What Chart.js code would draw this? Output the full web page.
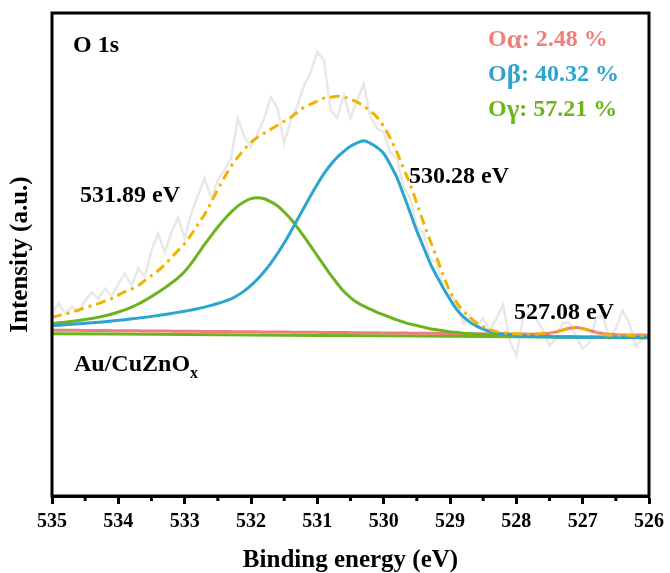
<!DOCTYPE html>
<html>
<head>
<meta charset="utf-8">
<title>O 1s XPS</title>
<script src="https://cdn.jsdelivr.net/npm/chart.js@4.4.1/dist/chart.umd.min.js"></script>
<style>
  html, body { margin: 0; padding: 0; background: #fff; }
</style>
</head>
<body>
<canvas id="xps" width="670" height="573"></canvas>
<script>
// binding energy grid (eV), 0.1 eV steps
const energy = [
  535.0, 534.9, 534.8, 534.7, 534.6, 534.5, 534.4, 534.3, 534.2, 534.1,
  534.0, 533.9, 533.8, 533.7, 533.6, 533.5, 533.4, 533.3, 533.2, 533.1,
  533.0, 532.9, 532.8, 532.7, 532.6, 532.5, 532.4, 532.3, 532.2, 532.1,
  532.0, 531.9, 531.8, 531.7, 531.6, 531.5, 531.4, 531.3, 531.2, 531.1,
  531.0, 530.9, 530.8, 530.7, 530.6, 530.5, 530.4, 530.3, 530.2, 530.1,
  530.0, 529.9, 529.8, 529.7, 529.6, 529.5, 529.4, 529.3, 529.2, 529.1,
  529.0, 528.9, 528.8, 528.7, 528.6, 528.5, 528.4, 528.3, 528.2, 528.1,
  528.0, 527.9, 527.8, 527.7, 527.6, 527.5, 527.4, 527.3, 527.2, 527.1,
  527.0, 526.9, 526.8, 526.7, 526.6, 526.5, 526.4, 526.3, 526.2, 526.1,
  526.0
];

// measured spectrum (a.u.)
const rawCounts = [
  183, 192, 182, 189, 184, 195, 203, 197, 207, 199,
  212, 222, 210, 227, 219, 245, 262, 243, 263, 278,
  257, 282, 300, 317, 297, 315, 325, 337, 377, 358,
  348, 362, 377, 398, 387, 352, 375, 390, 410, 423,
  443, 435, 385, 377, 400, 377, 395, 411, 378, 367,
  363, 343, 337, 309, 297, 269, 263, 237, 233, 207,
  199, 195, 172, 180, 169, 177, 165, 177, 191, 155,
  140, 177, 183, 177, 165, 150, 157, 173, 173, 159,
  147, 153, 177, 181, 157, 167, 185, 173, 149, 157,
  159
];

// fitted envelope
const envelope = [
  178.5, 180, 181.5, 183.5, 185.5, 188, 190, 192, 194.5, 197,
  200.5, 204, 206.5, 210, 215, 220, 225, 231, 238, 245,
  252, 261, 271, 281, 293, 306, 318, 329, 338, 346,
  353, 358, 362, 366, 370, 374, 378, 383, 388, 391,
  394, 397, 398, 399, 398, 396, 393, 389, 384, 378,
  369, 357, 343, 327, 311, 292, 273, 255, 238, 220,
  204, 193, 185, 178, 173, 169, 166, 164, 163, 162,
  162, 161.5, 161.5, 161.5, 162.5, 163, 164, 165.5, 167.5, 168,
  167, 165, 163, 161.5, 160.5, 160.5, 160.3, 160.3, 160.2, 160.2,
  160
];

// O-alpha component (527.08 eV)
const oAlpha = [
  165.5, 165.4, 165.4, 165.3, 165.3, 165.2, 165.2, 165.1, 165.1, 165.0,
  164.9, 164.9, 164.8, 164.8, 164.7, 164.7, 164.6, 164.6, 164.5, 164.4,
  164.4, 164.3, 164.3, 164.2, 164.2, 164.1, 164.1, 164.0, 163.9, 163.9,
  163.8, 163.8, 163.7, 163.7, 163.6, 163.6, 163.5, 163.4, 163.4, 163.3,
  163.3, 163.2, 163.2, 163.1, 163.1, 163.0, 162.9, 162.9, 162.8, 162.8,
  162.7, 162.7, 162.6, 162.6, 162.5, 162.4, 162.4, 162.3, 162.3, 162.2,
  162.2, 162.1, 162.1, 162.0, 161.9, 161.9, 161.8, 161.8, 161.7, 161.7,
  161.6, 161.6, 161.5, 161.6, 161.9, 162.5, 163.8, 165.6, 167.4, 168.1,
  167.3, 165.4, 163.4, 162.1, 161.3, 161.0, 160.7, 160.7, 160.6, 160.6,
  160.5
];

// O-beta component (530.28 eV)
const oBeta = [
  170.0, 170.5, 170.9, 171.4, 171.8, 172.4, 172.9, 173.5, 174.0, 174.7,
  175.4, 176.0, 176.8, 177.5, 178.4, 179.2, 180.2, 181.1, 182.2, 183.3,
  184.4, 185.7, 187.0, 188.5, 190.2, 192.2, 194.3, 196.8, 200.3, 204.7,
  210.2, 216.6, 224.1, 232.5, 242.0, 252.4, 263.9, 275.9, 287.8, 299.8,
  311.2, 321.7, 330.6, 338.1, 344.0, 349.0, 352.5, 354.4, 351.9, 347.8,
  341.8, 330.7, 317.7, 300.6, 282.6, 264.6, 248.5, 232.5, 219.4, 207.4,
  196.3, 186.3, 179.0, 173.5, 169.5, 166.5, 164.3, 162.7, 161.6, 160.8,
  160.2, 159.6, 159.3, 159.1, 158.9, 158.8, 158.6, 158.6, 158.5, 158.5,
  158.4, 158.4, 158.4, 158.3, 158.3, 158.2, 158.2, 158.1, 158.1, 158.0,
  158.0
];

// O-gamma component (531.89 eV)
const oGamma = [
  172.0, 172.8, 173.5, 174.4, 175.2, 176.2, 177.2, 178.5, 179.9, 181.6,
  183.6, 185.8, 188.5, 191.6, 195.2, 199.1, 203.3, 207.7, 212.5, 217.7,
  224.1, 232.1, 241.5, 251.0, 259.9, 268.4, 276.3, 283.3, 289.3, 293.7,
  296.7, 297.6, 296.6, 293.5, 289.5, 283.4, 276.4, 267.9, 258.8, 249.3,
  239.7, 230.2, 220.6, 212.1, 204.0, 198.0, 193.0, 189.4, 186.4, 183.3,
  180.8, 178.2, 175.7, 173.6, 171.6, 170.1, 168.5, 167.0, 165.9, 164.9,
  163.8, 163.3, 162.4, 162.0, 161.5, 161.1, 160.7, 160.4, 160.2, 159.9,
  159.8, 159.6, 159.5, 159.4, 159.2, 159.2, 159.0, 159.0, 158.8, 158.8,
  158.7, 158.6, 158.6, 158.5, 158.5, 158.3, 158.3, 158.2, 158.2, 158.1,
  158.1
];

// background line, 1 eV steps
const bgEnergy = [535, 534, 533, 532, 531, 530, 529, 528, 527, 526];
const background = [162, 161.6, 161.1, 160.7, 160.2, 159.8, 159.3, 158.9, 158.4, 158];

const xTicks = [535, 534, 533, 532, 531, 530, 529, 528, 527, 526];
const xMinorTicks = [534.5, 533.5, 532.5, 531.5, 530.5, 529.5, 528.5, 527.5, 526.5];

const peakLabels = ['531.89 eV', '530.28 eV', '527.08 eV'];
const shareGreek = ['\u03B1', '\u03B2', '\u03B3'];
const shareValues = [2.48, 40.32, 57.21];

const COL_ALPHA = '#f07d7d';
const COL_BETA = '#2ba4d0';
const COL_GAMMA = '#6cb41c';
const COL_ENV = '#f0b400';
const COL_RAW = '#e8e8e8';

const SERIF = '"Liberation Serif", "Times New Roman", serif';

function pts(xs, ys) {
  return xs.map((x, i) => ({ x: x, y: ys[i] }));
}

function lineSet(label, xs, ys, color, extra) {
  return Object.assign({
    label: label,
    data: pts(xs, ys),
    borderColor: color,
    backgroundColor: color,
    borderWidth: 3,
    pointRadius: 0,
    fill: false,
    cubicInterpolationMode: 'monotone'
  }, extra || {});
}

// box around the plot + half-eV minor ticks
const frame = {
  id: 'frame',
  afterDraw(chart) {
    const { ctx, chartArea: a, scales } = chart;
    ctx.save();
    ctx.strokeStyle = '#000';
    ctx.lineWidth = 3;
    ctx.strokeRect(a.left, a.top, a.right - a.left, a.bottom - a.top);
    ctx.beginPath();
    xMinorTicks.forEach((v) => {
      const px = scales.x.getPixelForValue(v);
      ctx.moveTo(px, a.bottom);
      ctx.lineTo(px, a.bottom + 5);
    });
    ctx.stroke();
    ctx.restore();
  }
};

// in-plot annotations
const notes = {
  id: 'notes',
  afterDraw(chart) {
    const c = chart.ctx;
    c.save();
    c.textAlign = 'left';
    c.textBaseline = 'alphabetic';
    c.font = 'bold 24px ' + SERIF;
    c.fillStyle = '#000';
    c.fillText('O 1s', 73, 52);
    c.fillText(peakLabels[0], 80, 202);
    c.fillText(peakLabels[1], 409, 183);
    c.fillText(peakLabels[2], 514, 319);

    c.fillText('Au/CuZnO', 74, 371);
    const w = c.measureText('Au/CuZnO').width;
    c.font = 'bold 16px ' + SERIF;
    c.fillText('x', 74 + w, 378);

    // component shares: bold "O", larger upright greek letter, then value
    const cols = [COL_ALPHA, COL_BETA, COL_GAMMA];
    shareGreek.forEach((g, i) => {
      const y = 46 + i * 35;
      let x = 488;
      c.fillStyle = cols[i];
      c.font = 'bold 24px ' + SERIF;
      c.fillText('O', x, y);
      x += c.measureText('O').width;
      c.font = 'bold 27px ' + SERIF;
      c.fillText(g, x, y + 2);
      x += c.measureText(g).width;
      c.font = 'bold 24px ' + SERIF;
      c.fillText(': ' + shareValues[i].toFixed(2) + ' %', x, y);
    });
    c.restore();
  }
};

Chart.defaults.font.family = SERIF;
Chart.defaults.font.weight = 'bold';
Chart.defaults.color = '#000';

new Chart(document.getElementById('xps'), {
  type: 'line',
  data: {
    datasets: [
      lineSet('Envelope', energy, envelope, COL_ENV, { borderDash: [10, 5, 3, 5] }),
      lineSet('O\u03B2', energy, oBeta, COL_BETA),
      lineSet('O\u03B3', energy, oGamma, COL_GAMMA),
      lineSet('O\u03B1', energy, oAlpha, COL_ALPHA),
      lineSet('Background', bgEnergy, background, COL_GAMMA, { cubicInterpolationMode: 'default', tension: 0 }),
      lineSet('Raw', energy, rawCounts, COL_RAW, { cubicInterpolationMode: 'default', tension: 0, borderWidth: 2.5 })
    ]
  },
  options: {
    responsive: false,
    animation: false,
    layout: { padding: { left: 6, right: 20, top: 13, bottom: 2 } },
    plugins: {
      legend: { display: false },
      tooltip: { enabled: false }
    },
    scales: {
      x: {
        type: 'linear',
        reverse: true,
        min: 526,
        max: 535,
        afterBuildTicks: (axis) => { axis.ticks = xTicks.map((v) => ({ value: v })); },
        ticks: {
          color: '#000',
          font: { size: 20, weight: 'bold' },
          padding: 6,
          maxRotation: 0,
          autoSkip: false
        },
        grid: {
          display: true,
          drawOnChartArea: false,
          drawTicks: true,
          tickLength: 8,
          tickWidth: 3,
          tickColor: '#000'
        },
        border: { display: true, color: '#000', width: 3 },
        title: {
          display: true,
          text: 'Binding energy (eV)',
          color: '#000',
          font: { size: 25, weight: 'bold', lineHeight: 0.8 },
          padding: { top: 11, bottom: 0 }
        }
      },
      y: {
        min: 0,
        max: 482,
        ticks: { display: false },
        grid: { display: false },
        border: { display: false },
        title: {
          display: true,
          text: 'Intensity (a.u.)',
          color: '#000',
          font: { size: 25, weight: 'bold' },
          padding: { top: 0, bottom: 8 }
        }
      }
    }
  },
  plugins: [frame, notes]
});
</script>
</body>
</html>
